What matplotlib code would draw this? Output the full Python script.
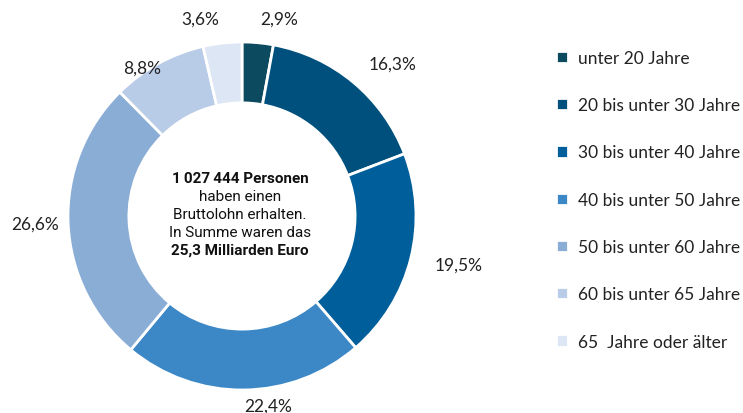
import numpy as np
import matplotlib.pyplot as plt

# Data
categories = ["unter 20 Jahre", "20 bis unter 30 Jahre", "30 bis unter 40 Jahre",
              "40 bis unter 50 Jahre", "50 bis unter 60 Jahre", "60 bis unter 65 Jahre",
              "65  Jahre oder älter"]
shares = [2.9, 16.3, 19.5, 22.4, 26.6, 8.8, 3.6]
colors = ["#0b4a5f", "#00507d", "#005e9b", "#3c88c6", "#8aadd6", "#b9cce7", "#dde6f4"]

# label distance from centre (in pie radii) and centre text lines
label_r = [1.14, 1.14, 1.14, 1.09, 1.05, 0.97, 1.14]
center_lines = [("1\u2009027\u2009444 Personen", "bold"),
                ("haben einen", "normal"),
                ("Bruttolohn erhalten.", "normal"),
                ("In Summe waren das", "normal"),
                ("25,3 Milliarden Euro", "bold")]

fig = plt.figure(figsize=(7.43, 4.14), dpi=100)
ax = fig.add_axes([(242 - 200) / 743, (414 - 217 - 200) / 414, 400 / 743, 400 / 414])

R = 174 / 200
wedges, _ = ax.pie(shares, colors=colors, radius=R, startangle=90, counterclock=False,
                   wedgeprops=dict(width=R * 0.35, edgecolor="white", linewidth=2))
ax.set_xlim(-1, 1)
ax.set_ylim(-1, 1)
ax.set_aspect("equal")

for w, s, lr in zip(wedges, shares, label_r):
    ang = np.deg2rad((w.theta1 + w.theta2) / 2)
    x = lr * R * np.cos(ang)
    y = lr * R * np.sin(ang)
    ha = "left" if x >= 0 else "right"
    ax.text(x, y, f"{s:.1f}%".replace(".", ","), ha=ha, va="center",
            fontsize=12.5, family="Lato", color="#222222", clip_on=False)

for i, (line, weight) in enumerate(center_lines):
    ax.text(-0.01, 0.19 - i * 0.09, line, ha="center", va="center", fontsize=11,
            family="Roboto", fontweight=weight, color="#111111")

leg = ax.legend(wedges, categories, loc="upper left", bbox_to_anchor=(556 / 743, 1 - 51 / 414),
                bbox_transform=fig.transFigure, frameon=False, fontsize=12.5,
                handlelength=0.7, handleheight=0.7, handletextpad=0.55,
                labelspacing=1.8, borderaxespad=0, borderpad=0)
for t in leg.get_texts():
    t.set_family("Lato")
    t.set_color("#222222")

fig.savefig("out.png", dpi=100)
